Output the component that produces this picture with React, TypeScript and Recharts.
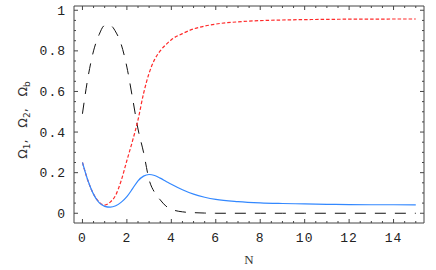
import { LineChart, Line, XAxis, YAxis, ReferenceArea, Customized } from "recharts";

const nValues = [0, 0.25, 0.5, 0.75, 1, 1.25, 1.5, 1.75, 2, 2.25, 2.5, 2.75, 3, 3.25, 3.5, 3.75, 4, 4.5, 5, 5.5, 6, 7, 8, 9, 10, 11, 12, 13, 14, 15];
const omegaB = [0.49, 0.67, 0.8, 0.88, 0.925, 0.925, 0.893, 0.83, 0.72, 0.57, 0.415, 0.3, 0.165, 0.102, 0.066, 0.036, 0.02, 0.007, 0.003, 0.001, 0, 0, 0, 0, 0, 0, 0, 0, 0, 0];
const omega2 = [0.25, 0.16, 0.095, 0.055, 0.04, 0.055, 0.09, 0.163, 0.26, 0.355, 0.46, 0.59, 0.69, 0.758, 0.8, 0.83, 0.855, 0.885, 0.908, 0.922, 0.932, 0.943, 0.949, 0.952, 0.954, 0.955, 0.956, 0.956, 0.957, 0.957];
const omega1 = [0.25, 0.16, 0.093, 0.052, 0.034, 0.03, 0.037, 0.055, 0.082, 0.12, 0.16, 0.183, 0.191, 0.186, 0.173, 0.158, 0.143, 0.116, 0.094, 0.079, 0.068, 0.057, 0.051, 0.048, 0.046, 0.044, 0.043, 0.042, 0.042, 0.041];

// every tick (major + minor); labels only on majors
const xTicks = [0, 0.5, 1, 1.5, 2, 2.5, 3, 3.5, 4, 4.5, 5, 5.5, 6, 6.5, 7, 7.5, 8, 8.5, 9, 9.5, 10, 10.5, 11, 11.5, 12, 12.5, 13, 13.5, 14, 14.5, 15];
const xLabelled = [0, 2, 4, 6, 8, 10, 12, 14];
const yTicks = [0, 0.05, 0.1, 0.15, 0.2, 0.25, 0.3, 0.35, 0.4, 0.45, 0.5, 0.55, 0.6, 0.65, 0.7, 0.75, 0.8, 0.85, 0.9, 0.95, 1];
const yLabelled = [0, 0.2, 0.4, 0.6, 0.8, 1];

const data = nValues.map((n, i) => ({ n, b: omegaB[i], o2: omega2[i], o1: omega1[i] }));

const xDomain = [-0.38, 15.37];
const yDomain = [-0.048, 1.021];
const frame = "#444";
// plot box edges (follow from the margins / axis sizes below)
const BOX = { left: 74, right: 424, top: 6, bottom: 223 };
const font = { fontFamily: "Liberation Mono, monospace", fontSize: 13, letterSpacing: 1, fill: "#222" };

const fmtY = (v: number) => (v === 0 ? "0" : v === 1 ? "1" : v.toFixed(1));
const isIn = (list: number[], v: number) => list.some((m) => Math.abs(m - v) < 1e-9);

function XTick(props: any) {
  const { x, y, payload } = props;
  const v = payload.value;
  const major = isIn(xLabelled, v);
  const len = major ? 4 : 2;
  return (
    <g>
      <path d={`M${x},${BOX.bottom}V${BOX.bottom - len}M${x},${BOX.top}V${BOX.top + len}`} stroke={frame} strokeWidth={1} fill="none" />
      {major && (
        <text x={x} y={y} dy="0.71em" textAnchor="middle" {...font}>
          {String(v)}
        </text>
      )}
    </g>
  );
}

function YTick(props: any) {
  const { x, y, payload } = props;
  const v = payload.value;
  const major = isIn(yLabelled, v);
  const len = major ? 4 : 2;
  return (
    <g>
      <path d={`M${BOX.left},${y}H${BOX.left + len}M${BOX.right},${y}H${BOX.right - len}`} stroke={frame} strokeWidth={1} fill="none" />
      {major && (
        <text x={x} y={y} dy="0.355em" textAnchor="end" {...font}>
          {fmtY(v)}
        </text>
      )}
    </g>
  );
}

function Labels() {
  return (
    <g fontFamily="DejaVu Sans, sans-serif" fill="#333">
      <text x={249} y={264} textAnchor="middle" fontSize={13} fontFamily="Liberation Serif, serif">
        N
      </text>
      <text transform="translate(27,120) rotate(-90)" textAnchor="middle" fontSize={12.5}>
        <tspan>Ω</tspan>
        <tspan fontSize={9} dy={3}>1</tspan>
        <tspan dy={-3}>,&#160;&#160;&#160;Ω</tspan>
        <tspan fontSize={9} dy={3}>2</tspan>
        <tspan dy={-3}>,&#160;&#160;&#160;Ω</tspan>
        <tspan fontSize={9} dy={3}>b</tspan>
      </text>
    </g>
  );
}

export default function App() {
  return (
    <div style={{ position: "absolute", left: 0, top: 0 }}>
      <LineChart width={436} height={270} data={data} margin={{ top: 6, right: 12, left: 0, bottom: 0 }}>
        <XAxis xAxisId="b" dataKey="n" type="number" domain={xDomain} ticks={xTicks} interval={0} allowDataOverflow
          height={47} tickSize={0} tickMargin={10} tick={<XTick />} axisLine={false} tickLine={false} />
        <YAxis yAxisId="l" type="number" domain={yDomain} ticks={yTicks} interval={0} allowDataOverflow
          width={74} tickSize={0} tickMargin={8} tick={<YTick />} axisLine={false} tickLine={false} />
        <ReferenceArea xAxisId="b" yAxisId="l" x1={xDomain[0]} x2={xDomain[1]} y1={yDomain[0]} y2={yDomain[1]}
          fill="none" stroke={frame} strokeWidth={1} ifOverflow="visible" />
        <Line xAxisId="b" yAxisId="l" type="monotone" dataKey="b" stroke="#111" strokeWidth={1} strokeDasharray="11 9" dot={false} isAnimationActive={false} />
        <Line xAxisId="b" yAxisId="l" type="monotone" dataKey="o2" stroke="#ff2a2a" strokeWidth={1.2} strokeDasharray="3.5 2" dot={false} isAnimationActive={false} />
        <Line xAxisId="b" yAxisId="l" type="monotone" dataKey="o1" stroke="#3388ff" strokeWidth={1.2} dot={false} isAnimationActive={false} />
        <Customized component={Labels} />
      </LineChart>
    </div>
  );
}
